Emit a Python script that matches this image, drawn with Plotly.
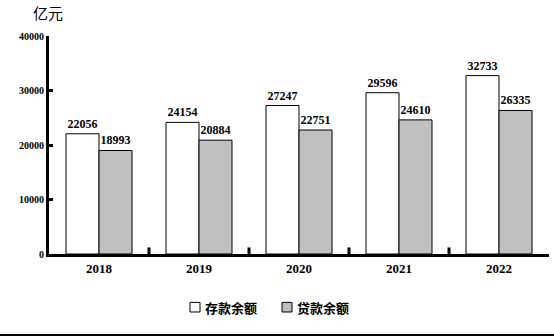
import plotly.graph_objects as go

years = ["2018", "2019", "2020", "2021", "2022"]
deposits = [22056, 24154, 27247, 29596, 32733]
loans = [18993, 20884, 22751, 24610, 26335]
y_ticks = [0, 10000, 20000, 30000, 40000]
series_names = ["存款余额", "贷款余额"]
series_colors = ["white", "#c0c0c0"]

font_main = "Liberation Serif, DejaVu Serif, serif"
font_cjk = "Noto Sans CJK SC"

fig = go.Figure()
for name, vals, col in zip(series_names, [deposits, loans], series_colors):
    fig.add_trace(go.Bar(
        x=years, y=vals, name=name,
        marker=dict(color=col, line=dict(color="black", width=1)),
        text=[str(v) for v in vals], textposition="outside",
        textfont=dict(family=font_main, size=12, color="black", weight="bold"),
        cliponaxis=False,
    ))

fig.update_layout(
    width=554, height=336,
    margin=dict(l=49, r=5, t=36, b=82),
    paper_bgcolor="white", plot_bgcolor="white",
    barmode="group", bargap=0.34, bargroupgap=0,
    showlegend=False,
    xaxis=dict(showline=True, linecolor="black", linewidth=3, ticks="",
               tickfont=dict(family=font_main, size=13, color="black", weight="bold"),
               showgrid=False),
    yaxis=dict(range=[0, 40000], tickvals=y_ticks, ticktext=[str(v) for v in y_ticks],
               showline=True, linecolor="black", linewidth=3,
               ticks="inside", ticklen=4, tickwidth=3, tickcolor="black",
               tickfont=dict(family=font_main, size=10, color="black", weight="bold"),
               showgrid=False, zeroline=False),
)
fig.add_annotation(text="亿元", xref="paper", yref="paper", x=-0.036, y=1.05,
                   xanchor="left", yanchor="bottom", showarrow=False,
                   font=dict(family=font_cjk, size=15, color="black"))
# category separator ticks on x axis
for i in range(1, len(years)):
    fig.add_shape(type="line", xref="x", yref="paper", x0=i - 0.5, x1=i - 0.5, y0=0, y1=0.03,
                  line=dict(color="black", width=3))
fig.add_shape(type="line", xref="paper", yref="paper", x0=-0.1, x1=1.02, y0=-0.3716, y1=-0.3716,
              line=dict(color="black", width=2))

# manual legend
legend_x = [0.282, 0.466]
for lx, name, col in zip(legend_x, series_names, series_colors):
    fig.add_shape(type="rect", xref="paper", yref="paper", x0=lx, x1=lx + 0.02,
                  y0=-0.266, y1=-0.222, fillcolor=col, line=dict(color="black", width=1))
    fig.add_annotation(text=name, xref="paper", yref="paper", x=lx + 0.026, y=-0.244,
                       xanchor="left", yanchor="middle", showarrow=False,
                       font=dict(family=font_cjk, size=13, color="black", weight="bold"))

fig.write_html("out.html")
